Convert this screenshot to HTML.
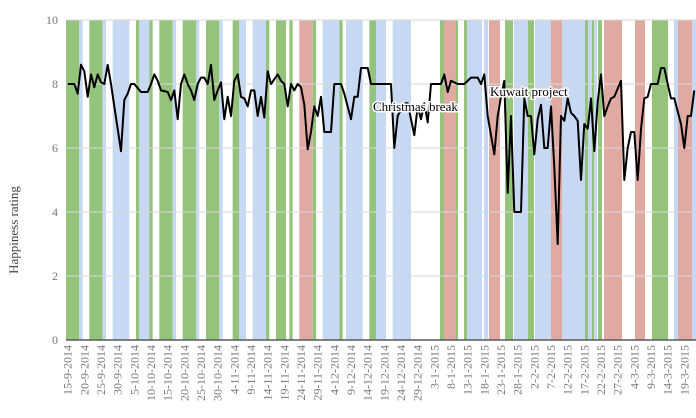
<!DOCTYPE html>
<html><head><meta charset="utf-8"><style>
html,body{margin:0;padding:0;background:#fff;}
svg{display:block;font-family:"Liberation Serif",serif;}
</style></head><body>
<svg id="chart" width="696" height="418" viewBox="0 0 696 418" xmlns="http://www.w3.org/2000/svg">
<g id="bands"></g>
<g id="grid"></g>
<g id="yticks"></g>
<g id="xticks"></g>
<g id="series"></g>
<text transform="translate(18,230) rotate(-90)" text-anchor="middle" font-size="13" fill="#444">Happiness rating</text>
<text x="373" y="111" font-size="13" fill="#000" stroke="#fff" stroke-width="3" paint-order="stroke">Christmas break</text>
<text x="490" y="96" font-size="13" fill="#000" stroke="#fff" stroke-width="3" paint-order="stroke">Kuwait  project</text>
</svg>
<script>
const totalDays = 189;
const yTicks = [0, 2, 4, 6, 8, 10];
const dayIdx = [0,2,3,4,5,6,7,8,9,10,11,12,13,14,15,16,17,18,19,20,22,24,25,26,27,28,30,31,32,33,34,35,36,37,38,39,40,41,42,43,44,45,46,47,48,49,50,51,52,53,54,55,56,57,58,59,60,61,63,64,65,66,67,68,69,70,71,72,73,74,75,76,77,79,80,82,83,85,86,87,88,90,91,97,98,99,101,102,104,105,106,107,108,109,112,113,114,115,117,119,121,123,124,125,126,128,129,130,131,132,133,134,136,137,138,139,140,141,142,143,144,145,146,147,148,149,150,151,152,153,154,155,156,157,158,159,160,161,162,163,164,166,167,168,169,170,171,172,173,174,175,177,178,179,180,181,182,184,185,186,187,188];
const ratings = [8.0,8.0,7.7,8.6,8.4,7.6,8.3,7.9,8.3,8.05,8.0,8.6,8.0,7.3,6.6,5.9,7.5,7.7,8.0,8.0,7.75,7.75,8.0,8.3,8.1,7.8,7.75,7.5,7.8,6.9,8.0,8.3,8.0,7.8,7.5,8.0,8.2,8.2,8.0,8.6,7.5,7.8,8.05,6.9,7.6,7.0,8.1,8.3,7.6,7.55,7.3,7.8,7.8,7.0,7.6,6.95,8.4,8.0,8.3,8.1,8.0,7.3,8.0,7.8,8.0,7.9,7.35,5.96,6.5,7.3,7.0,7.6,6.5,6.5,8.0,8.0,7.7,6.9,7.6,7.6,8.5,8.5,8.0,8.0,6.0,7.0,7.4,7.4,6.4,7.3,6.9,7.4,6.8,8.0,8.0,8.3,7.75,8.1,8.0,8.0,8.2,8.2,8.0,8.3,7.0,5.8,7.0,7.6,8.1,4.6,7.0,4.0,4.0,7.55,7.0,7.0,5.8,6.9,7.35,6.0,6.0,7.3,5.4,3.0,7.0,6.85,7.55,7.1,7.0,6.85,5.0,6.75,6.6,7.55,5.9,7.45,8.3,7.0,7.3,7.55,7.6,8.1,5.0,6.0,6.5,6.5,5.0,6.6,7.55,7.6,8.0,8.0,8.5,8.5,8.0,7.55,7.55,6.75,6.0,7.0,7.0,7.8];
const bandStart = [0,4,7,11,14,21,22,25,28,32,35,39,42,46,50,52,56,60,63,67,70,74,77,82,84,91,93,98,112.2,113.4,117,119.4,120.3,125.4,126.9,131.7,134.4,138.6,140.7,145.5,148.8,155.7,156.6,157.8,158.4,159.6,161.4,170.7,175.8,182.4,183.6,187.8];
const bandEnd   = [4,5,11,12,19,22,25,26,32,33,39,40,46,47,52,54,60,61,66,68,74,75,82,83,89,93,96,103.5,113.4,117,117.6,120.3,124.8,126.6,130.2,134.1,138.6,140.4,145.5,148.8,155.7,156.6,157.8,158.4,159.3,160.8,166.8,173.7,180.6,183.6,187.8,189];
const bandType  = ["g","b","g","b","b","g","b","g","g","b","g","b","g","b","g","b","b","g","g","g","r","g","b","g","b","g","b","b","g","r","g","g","b","b","r","g","b","g","b","r","b","g","b","g","b","g","r","r","g","b","r","b"];

const NS = "http://www.w3.org/2000/svg";
const L = 66, R = 696, T = 20, B = 340;
const W = (R - L) / totalDays;
function xEdge(d){ return L + d * W; }
function xOf(d){ return L + (d + 0.5) * W; }
function yOf(v){ return B - (v / 10) * (B - T); }
const colors = {g:"#94c47b", b:"#c6d8f2", r:"#e0aaa2"};

const bandsG = document.getElementById("bands");
for (let i = 0; i < bandStart.length; i++) {
  const r = document.createElementNS(NS, "rect");
  r.setAttribute("x", xEdge(bandStart[i]));
  r.setAttribute("y", T);
  r.setAttribute("width", xEdge(bandEnd[i]) - xEdge(bandStart[i]));
  r.setAttribute("height", B - T);
  r.setAttribute("fill", colors[bandType[i]]);
  
  
  bandsG.appendChild(r);
}

const gridG = document.getElementById("grid");
const yG = document.getElementById("yticks");
yTicks.forEach(v => {
  const y = yOf(v);
  if (v > 0) {
    const ln = document.createElementNS(NS, "line");
    ln.setAttribute("x1", L); ln.setAttribute("x2", R);
    ln.setAttribute("y1", y); ln.setAttribute("y2", y);
    ln.setAttribute("stroke", "#d9d9d9"); ln.setAttribute("stroke-width", "1");
    
    
    gridG.appendChild(ln);
  }
  const t = document.createElementNS(NS, "text");
  t.setAttribute("x", 58); t.setAttribute("y", y + 4);
  t.setAttribute("text-anchor", "end"); t.setAttribute("font-size", "12");
  t.setAttribute("fill", "#777");
  t.textContent = v;
  
  
  yG.appendChild(t);
});
const axis = document.createElementNS(NS, "line");
axis.setAttribute("x1", L); axis.setAttribute("x2", R);
axis.setAttribute("y1", B); axis.setAttribute("y2", B);
axis.setAttribute("stroke", "#595959"); axis.setAttribute("stroke-width", "1.5");


yG.appendChild(axis);

const xG = document.getElementById("xticks");
const start = new Date(2014, 8, 15);
for (let d = 0; d < totalDays; d += 5) {
  const dt = new Date(start.getTime());
  dt.setDate(dt.getDate() + d);
  const label = dt.getDate() + "-" + (dt.getMonth() + 1) + "-" + dt.getFullYear();
  const x = xOf(d);
  const t = document.createElementNS(NS, "text");
  t.setAttribute("transform", "translate(" + (x + 4) + ",345) rotate(-90)");
  t.setAttribute("text-anchor", "end"); t.setAttribute("font-size", "12");
  t.setAttribute("fill", "#777");
  t.textContent = label;
  
  
  xG.appendChild(t);
}

const sG = document.getElementById("series");
const pts = dayIdx.map((d, i) => xOf(d).toFixed(1) + "," + yOf(ratings[i]).toFixed(1)).join(" ");
const pl = document.createElementNS(NS, "polyline");
pl.setAttribute("points", pts);
pl.setAttribute("fill", "none"); pl.setAttribute("stroke", "#000");
pl.setAttribute("stroke-width", "2"); pl.setAttribute("stroke-linejoin", "round");


sG.appendChild(pl);
</script>
</body></html>
